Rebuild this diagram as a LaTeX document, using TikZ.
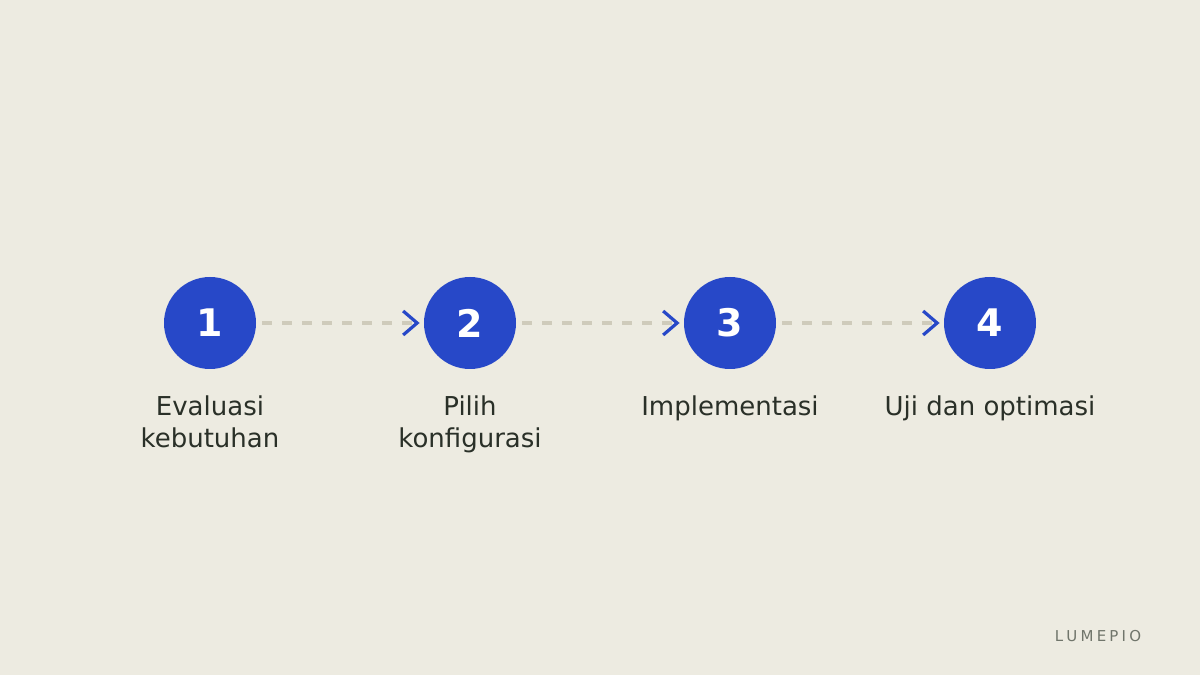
\documentclass[tikz,border=0pt]{standalone}
\usepackage{fontspec}
\setmainfont{DejaVu Sans}
\usetikzlibrary{arrows.meta}
\definecolor{bgcream}{HTML}{EDEBE1}
\definecolor{stepblue}{HTML}{2748C8}
\definecolor{dashgray}{HTML}{CFCBBB}
\definecolor{labeltext}{HTML}{2A3028}
\definecolor{brandgray}{HTML}{70756B}
\tikzset{
  stepdot/.style={circle, fill=stepblue, minimum size=46pt, inner sep=0pt,
    text=white, font=\fontsize{19}{22}\selectfont\bfseries},
  steplabel/.style={anchor=north, align=center, text=labeltext,
    font=\fontsize{13}{16}\selectfont},
  steplink/.style={draw=dashgray, line width=2pt, dash pattern=on 5pt off 5pt,
    shorten <=3pt, shorten >=2pt,
    -{Straight Barb[length=7pt, width=12pt, line width=1.6pt, color=stepblue]}}
}
\begin{document}
\begin{tikzpicture}[x=0.5pt, y=0.5pt]
        \path[fill=bgcream, use as bounding box] (0, 0) rectangle (1200, 675);

        \node[stepdot] (1a) at (210,352) {1};
        \node[stepdot] (2a) at (470,352) {2};
        \node[stepdot] (3a) at (730,352) {3};
        \node[stepdot] (4a) at (990,352) {4};

        \path[steplink] (1a) -- (2a);
        \path[steplink] (2a) -- (3a);
        \path[steplink] (3a) -- (4a);

        \node[steplabel] (1l) at (210,286) {Evaluasi\\kebutuhan};
        \node[steplabel] (2l) at (470,286) {Pilih\\konfigurasi};
        \node[steplabel] (3l) at (730,286) {Implementasi};
        \node[steplabel] (4l) at (990,286) {Uji dan optimasi};

        \node[text=brandgray, font=\fontsize{7.5}{9}\selectfont] (brand) at (1098,39)
          {L\hspace{1.6pt}U\hspace{1.6pt}M\hspace{1.6pt}E\hspace{1.6pt}P\hspace{1.6pt}I\hspace{1.6pt}O};
    \end{tikzpicture}
\end{document}
